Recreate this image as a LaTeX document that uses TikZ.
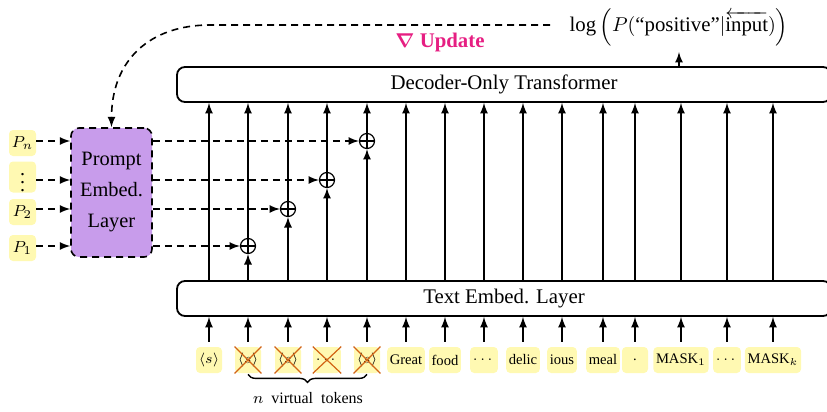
\documentclass[tikz,border=0pt]{standalone}
\usepackage{amsmath,amssymb}
\usepackage{fontspec}
\setmainfont{Liberation Serif}
\usetikzlibrary{decorations.pathreplacing}
\definecolor{tokyellow}{RGB}{255,249,178}
\definecolor{embpurple}{RGB}{200,156,235}
\definecolor{crossorange}{RGB}{210,100,20}
\definecolor{updpink}{RGB}{230,30,130}

\begin{document}
\begin{tikzpicture}[x=0.5pt,y=-0.5pt, font=\fontsize{10.4}{12.5}\selectfont,
  tok/.style={fill=tokyellow, rounded corners=2pt, minimum width=13pt, minimum height=13pt,
    inner xsep=1.3pt, inner ysep=0pt, font=\fontsize{7.3}{8}\selectfont},
  layer/.style={draw, line width=0.9pt, rounded corners=4pt, minimum height=17.5pt, minimum width=327pt},
  up/.style={-latex, line width=0.8pt},
  dashline/.style={dash pattern=on 3.5pt off 2.5pt, line width=0.8pt},
  plus/.style={circle, draw, line width=0.6pt, minimum size=7.5pt, inner sep=0pt,
    path picture={\draw[line width=0.6pt] (path picture bounding box.north) -- (path picture bounding box.south)
      (path picture bounding box.west) -- (path picture bounding box.east);}}]

\useasboundingbox (0,0) rectangle (827,412);
\clip (0,0) rectangle (827,412);

% Layers
\node[layer] (dec) at (504,84.5) {Decoder-Only Transformer};
\node[layer] (txt) at (504,298.5) {Text Embed. Layer};

% Input tokens
\foreach \x/\lab/\nm in {209/{$\langle s\rangle$}/t0, 406/Great/t5, 445/food/t6, 484/{$\dots$}/t7,
  523/delic/t8, 562/ious/t9, 603/meal/t10, 635/./t11, 681/{MASK$_1$}/t12, 727/{$\dots$}/t13, 773/{MASK$_k$}/t14}
{
  \node[tok] (\nm) at (\x,360) {\lab};
  \draw[up] ([yshift=2.5pt]\nm.north) -- (\nm.north |- txt.south);
  \draw[up] (\nm.north |- txt.north) -- (\nm.north |- dec.south);
}

% Prompt embedding
\node[draw, dashline, fill=embpurple, rounded corners=4pt, minimum width=40.5pt, minimum height=64.5pt,
  align=center, font=\fontsize{10.2}{15.5}\selectfont] (pe) at (111.5,192.5) {Prompt\\Embed.\\Layer};

\node[plus] (s1) at (248,246) {};
\node[plus] (s2) at (288,209) {};
\node[plus] (s3) at (327,180) {};
\node[plus] (s4) at (367,141) {};

\node[tok, font=\footnotesize, minimum width=13.5pt] (pn) at (22.5,143) {$P_n$};
\node[tok, font=\normalsize, minimum width=13.5pt, minimum height=15.5pt] (pd) at (22.5,177) {$\vdots$};
\node[tok, font=\footnotesize, minimum width=13.5pt] (p2) at (22.5,212) {$P_2$};
\node[tok, font=\footnotesize, minimum width=13.5pt] (p1) at (22.5,248) {$P_1$};

\foreach \p/\s in {pn/s4, pd/s3, p2/s2, p1/s1}
{
  \draw[dashline,-latex] (\p.east |- \s) -- (pe.west |- \s);
  \draw[dashline,-latex] (pe.east |- \s) -- (\s.west);
}

% Virtual tokens
\foreach \x/\lab/\nm/\s in {248/{$\langle s\rangle$}/v1/s1, 288/{$\langle s\rangle$}/v2/s2,
  327/{$\dots$}/v3/s3, 367/{$\langle s\rangle$}/v4/s4}
{
  \node[tok] (\nm) at (\x,360) {\lab};
  \draw[crossorange, line width=0.6pt] (\nm.north west) -- (\nm.south east) (\nm.north east) -- (\nm.south west);
  \draw[up] ([yshift=2.5pt]\nm.north) -- (\nm.north |- txt.south);
  \draw[up] (\nm.north |- txt.north) -- (\s.south);
  \draw[up] (\s.north) -- (\s.north |- dec.south);
}

\draw[decorate, decoration={brace, mirror, amplitude=4pt}, line width=0.7pt]
  ([yshift=-0.5pt]v1.south) -- ([yshift=-0.5pt]v4.south);
\node[font=\footnotesize] (vlbl) at (308,398) {$n$\enspace virtual\enspace tokens};

% Output and update
\node (logp) at (679,27) {$\text{log}\,\Big(P(\text{``positive''}|\overleftarrow{\text{input}})\Big)$};
\draw[up] (dec.north -| logp) -- ++(0,-14);

\coordinate (upd) at (550,25);
\draw[dashline,-latex] (upd) -- (210,25) .. controls (150,25) and (111.5,60) .. (pe.north);
\node[text=updpink, font=\fontsize{10.4}{12}\bfseries] (updlbl) at (440,42) {$\boldsymbol{\nabla}$ Update};

\end{tikzpicture}
\end{document}
